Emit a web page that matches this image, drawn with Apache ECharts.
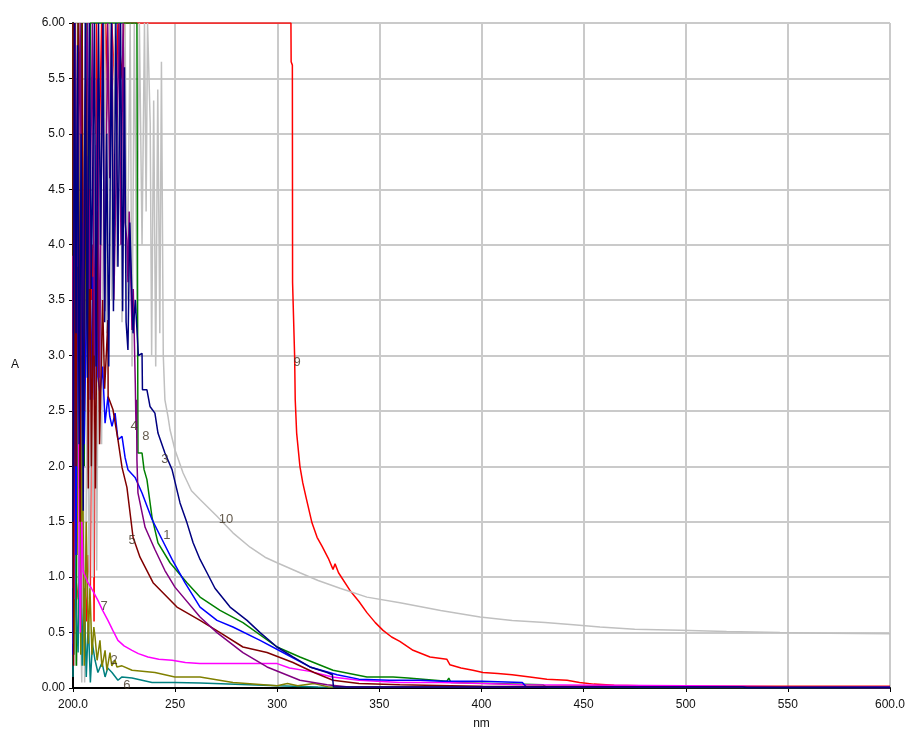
<!DOCTYPE html>
<html>
<head>
<meta charset="utf-8">
<script src="https://cdn.jsdelivr.net/npm/echarts@6/dist/echarts.min.js"></script>
<style>
  html, body { margin: 0; padding: 0; background: #fff; }
  #chart { width: 914px; height: 738px; }
</style>
</head>
<body>
<div id="chart"></div>
<script>
// spectra: [nm, A]
const s1 = [[200,0.3],[200.8,3.5],[201.5,1.2],[202.5,4.6],[203.5,1.8],[204.5,4.2],[205.5,2.2],[206.5,3.4],[207.5,4.8],[208.5,2.6],[209.8,3.71],[210.5,2.6],[211.5,4.9],[212.2,2.81],[213.2,2.66],[214.5,2.9],[215.7,2.39],[217.1,2.63],[218,2.45],[219.1,2.36],[220.6,2.48],[222,2.24],[224,2.27],[225.5,2.08],[226.9,1.97],[230.4,1.9],[233.8,1.76],[238.7,1.52],[243.6,1.34],[248.5,1.16],[254.8,0.95],[262.2,0.73],[270.5,0.61],[278.3,0.55],[291.6,0.43],[302.8,0.32],[316,0.19],[329.3,0.12],[340,0.08],[355,0.07],[370,0.07],[381,0.06],[400,0.06],[420,0.05],[422,0.01],[600,0.01]];
const s2 = [[200,6],[200.5,0.5],[201.2,6],[202,1.2],[203,3.0],[203.8,0.3],[204.5,2.6],[205.5,0.2],[206.5,1.5],[207.5,0.4],[208.3,0.9],[209.3,0.3],[210.2,0.55],[210.8,0.46],[211.8,0.25],[213.2,0.43],[214.2,0.19],[215.7,0.34],[216.6,0.16],[218.1,0.32],[219,0.2],[220.6,0.25],[221.5,0.19],[224,0.2],[228.9,0.16],[240.1,0.14],[249.9,0.1],[262.2,0.1],[278.3,0.05],[299.9,0.02],[305,0.04],[310,0.02],[318,0.04],[325,0.01],[600,0.005]];
const s3 = [[200,1.5],[200.7,6],[201.5,3.2],[202.2,5.8],[203,2.2],[204,5.0],[205,1.6],[206,6],[207,2.8],[208,6],[209,3.6],[210.5,6],[211.3,2.9],[212.5,6],[213.5,4.0],[214.7,6],[215.5,3.3],[216.5,5.0],[217.5,2.9],[218.8,6],[219.8,3.4],[221,6],[222,3.8],[223.3,6],[224.3,3.4],[225.2,5.6],[226,3.3],[226.9,3.05],[227.8,4.2],[229.4,3.2],[230.5,3.5],[232,3.0],[233.8,3.02],[234,2.69],[236.2,2.69],[237.7,2.54],[240.1,2.48],[241.6,2.3],[245,2.12],[248.5,1.97],[252.4,1.67],[255.8,1.49],[258.8,1.31],[262.2,1.16],[265.6,1.04],[269.5,0.9],[276.9,0.73],[285.2,0.61],[291.6,0.5],[299.9,0.37],[307.7,0.28],[316,0.19],[324.4,0.14],[327,0.12],[327.5,0.01],[528,0.01],[530,0.003],[600,0.003]];
const s4 = [[200,2.5],[201,6],[202,3.8],[203.5,6],[204.5,3.0],[206,5.3],[207,6],[208,3.6],[209.5,6],[210.5,3.0],[212,5.5],[213,2.8],[214.5,6],[215.5,3.4],[217,6],[218,4.6],[219,6],[220,3.5],[221.5,5.0],[222.5,6],[223.5,4.0],[224.5,6],[225.5,4.2],[226.4,4.04],[226.9,3.66],[227.5,4.3],[228.9,3.23],[229.5,3.6],[230.5,2.75],[230.8,2.4],[231.1,2.6],[231.3,2.06],[231.8,1.76],[235.3,1.45],[240.1,1.25],[245,1.06],[249.9,0.91],[262.2,0.64],[270.5,0.5],[283.2,0.32],[295,0.19],[311.1,0.07],[324.4,0.03],[335,0.01],[600,0.005]];
const s5 = [[200,6],[200.3,0.2],[200.8,6],[201.5,2.0],[202.5,6],[203.5,1.5],[204.5,6],[205.3,2.5],[206.5,5.5],[207.5,1.8],[208.2,4.5],[209,2.0],[210,3.6],[211,1.8],[212.1,4.3],[213,2.2],[214.5,3.5],[215.5,2.7],[217.1,3.32],[217.2,2.63],[219.6,2.51],[222,2.24],[224,1.99],[226.4,1.81],[229.4,1.36],[232.8,1.18],[239.2,0.95],[250.9,0.73],[262.2,0.61],[272,0.5],[283.2,0.37],[295,0.32],[307.7,0.23],[318,0.14],[327.3,0.07],[340,0.04],[360,0.03],[385,0.02],[400,0.015],[600,0.005]];
const s6 = [[200,0.1],[200.5,3.0],[201.2,0.8],[202,0.52],[202.5,0.32],[203.5,1.8],[204.5,0.2],[205.5,0.9],[206.5,0.1],[207.5,0.6],[208.5,0.05],[209.5,0.4],[210.8,0.25],[212.2,0.14],[214.2,0.23],[215.7,0.1],[217,0.18],[219.1,0.14],[222,0.07],[224,0.1],[228.9,0.09],[238.7,0.05],[249.9,0.05],[262.2,0.045],[300,0.02],[320,0.01],[600,0.005]];
const s7 = [[200,3.9],[200.5,0.8],[201.5,3.2],[202.4,5.05],[203,1.1],[203.6,0.5],[204.3,1.5],[205,1.05],[207.3,0.95],[209,0.9],[210.5,0.85],[212.2,0.79],[214.5,0.7],[217.1,0.61],[219.5,0.52],[222,0.43],[225,0.38],[228.9,0.34],[232,0.31],[236.7,0.28],[242,0.26],[248.5,0.25],[255,0.23],[262,0.22],[300,0.22],[306,0.18],[316,0.15],[327,0.1],[340,0.07],[360,0.05],[380,0.05],[400,0.04],[420,0.03],[500,0.02],[528,0.015],[553,0.01],[600,0.005]];
const s8 = [[200,3.2],[200.4,0.3],[201,2.5],[201.6,0.2],[202.5,6],[203.5,1.0],[204.3,6],[205.5,2.0],[206.5,6],[207.5,3.0],[208.5,6],[231.3,6],[231.4,5.2],[231.6,3.6],[231.8,2.12],[233.8,2.12],[234.8,1.97],[236.2,1.88],[238.7,1.54],[241.6,1.31],[247.5,1.13],[255.8,0.95],[262.2,0.82],[272,0.7],[283.2,0.59],[299.9,0.37],[311.1,0.28],[327.3,0.16],[343.9,0.1],[356.7,0.1],[364,0.09],[383,0.06],[384,0.09],[385,0.05],[430,0.03],[432,0.005],[600,0.005]];
const s9 = [[200,0.9],[200.6,6],[201.3,1.0],[202.5,0.8],[203.5,1.06],[204.5,0.7],[205.5,1.06],[206.5,0.6],[207.5,1.2],[208.5,0.9],[209.3,4.0],[209.8,3.8],[210.3,0.6],[211.5,6],[212.5,4.5],[214,6],[215,5.0],[216,6],[218,4.8],[219,6],[221,5.2],[222,6],[224,5.5],[225,6],[306.7,6],[306.8,5.65],[307.4,5.62],[307.5,3.66],[308.5,3.0],[308.8,2.6],[309.5,2.3],[311.1,2.0],[312.5,1.85],[314.1,1.72],[317,1.49],[319.5,1.36],[321.9,1.28],[325,1.17],[327.3,1.07],[328.3,1.12],[330,1.04],[335.6,0.88],[340,0.78],[343.9,0.68],[348,0.59],[351.8,0.52],[356,0.46],[360,0.42],[366.5,0.34],[374.8,0.28],[383,0.26],[384.5,0.21],[390,0.18],[395.8,0.16],[400.7,0.14],[408,0.13],[415,0.12],[423.7,0.1],[432,0.08],[441.9,0.07],[448,0.05],[455,0.035],[465,0.025],[490,0.015],[600,0.015]];
const s10 = [[200,0.4],[201,1.8],[202,0.2],[203,1.2],[204.3,0.05],[205,2.2],[205.7,0.05],[207,2.8],[208,0.8],[209,3.5],[210,1.0],[210.8,5.0],[211.6,1.06],[213,5.0],[214,2.2],[215.5,6],[216.5,3.2],[218,6],[219,3.5],[220.5,6],[221.5,3.8],[223,6],[224,3.3],[225.5,6],[226.5,3.5],[228,6],[228.9,2.9],[230,6],[231.3,3.4],[232.5,6],[233.8,4.0],[235,6],[235.8,4.3],[236.5,6],[237.8,5.1],[238.5,3.0],[239.5,5.3],[240.5,2.9],[241.5,5.4],[242.5,3.2],[243.3,5.65],[244.2,3.0],[245,2.6],[246.5,2.45],[247.5,2.33],[249.9,2.15],[253.9,1.94],[258,1.78],[262.2,1.7],[270.5,1.55],[278.3,1.4],[286.7,1.27],[294,1.18],[299.9,1.13],[311.1,1.04],[320,0.97],[330.7,0.9],[343.9,0.82],[360.1,0.77],[380,0.7],[399.3,0.64],[415,0.61],[431.1,0.59],[445,0.57],[458,0.55],[475,0.53],[497.2,0.52],[520,0.51],[546.1,0.5],[570,0.495],[600,0.49]];

const spectra = { 1: s1, 2: s2, 3: s3, 4: s4, 5: s5, 6: s6, 7: s7, 8: s8, 9: s9, 10: s10 };
const colors = { 1: '#0000ff', 2: '#808000', 3: '#000080', 4: '#800080', 5: '#800000', 6: '#008080', 7: '#ff00ff', 8: '#008000', 9: '#ff0000', 10: '#c0c0c0' };
// drawing order, bottom first
const drawOrder = [9, 10, 8, 6, 2, 7, 1, 5, 4, 3];

// curve numbers written in the plot
const labelText = ['9', '10', '1', '5', '3', '4', '8', '7', '2', '6'];
const labelNm = [309.7, 274.9, 246.0, 228.9, 245.0, 229.9, 235.7, 215.2, 220.1, 226.4];
const labelA = [2.94, 1.52, 1.38, 1.33, 2.06, 2.36, 2.27, 0.74, 0.25, 0.02];

const chart = echarts.init(document.getElementById('chart'))

const series = drawOrder.map(k => ({
  name: String(k),
  type: 'line',
  data: spectra[k],
  symbol: 'none',
  lineStyle: { color: colors[k], width: 1.5 },
  z: 2
}))

series.push({
  type: 'scatter',
  data: labelText.map((t, i) => [labelNm[i], labelA[i], t]),
  symbolSize: 10,
  itemStyle: { color: 'transparent' },
  label: {
    show: true,
    position: 'inside',
    formatter: p => p.data[2],
    color: '#3f3222',
    fontSize: 13,
    fontFamily: 'Liberation Sans'
  },
  z: 5
})

const option = {
  animation: false,
  backgroundColor: '#fff',
  grid: { left: 73, right: 24, top: 23, bottom: 50 },
  xAxis: {
    type: 'value',
    min: 200,
    max: 600,
    interval: 50,
    name: 'nm',
    nameLocation: 'middle',
    nameGap: 30,
    nameTextStyle: { color: '#111', fontSize: 12, fontFamily: 'Liberation Sans' },
    axisLine: { show: true, onZero: false, lineStyle: { color: '#000', width: 2 } },
    axisTick: { show: true, length: 4, lineStyle: { color: '#000' } },
    axisLabel: {
      color: '#111',
      fontSize: 12,
      fontFamily: 'Liberation Sans',
      margin: 11,
      formatter: v => (v === 200 || v === 600) ? v.toFixed(1) : String(v)
    },
    splitLine: { show: true, lineStyle: { color: '#cacaca', width: 2 } }
  },
  yAxis: {
    type: 'value',
    min: 0,
    max: 6,
    interval: 0.5,
    name: 'A',
    nameLocation: 'middle',
    nameRotate: 0,
    nameGap: 54,
    nameTextStyle: { color: '#111', fontSize: 12, fontFamily: 'Liberation Sans', verticalAlign: 'top', lineHeight: 18 },
    axisLine: { show: true, lineStyle: { color: '#000', width: 2 } },
    axisTick: { show: true, length: 4, lineStyle: { color: '#000' } },
    axisLabel: {
      color: '#111',
      fontSize: 12,
      fontFamily: 'Liberation Sans',
      margin: 8,
      formatter: v => (v === 0 || v === 6) ? v.toFixed(2) : v.toFixed(1)
    },
    splitLine: { show: true, lineStyle: { color: '#cacaca', width: 2 } }
  },
  series: series
}

chart.setOption(option)
</script>
</body>
</html>
